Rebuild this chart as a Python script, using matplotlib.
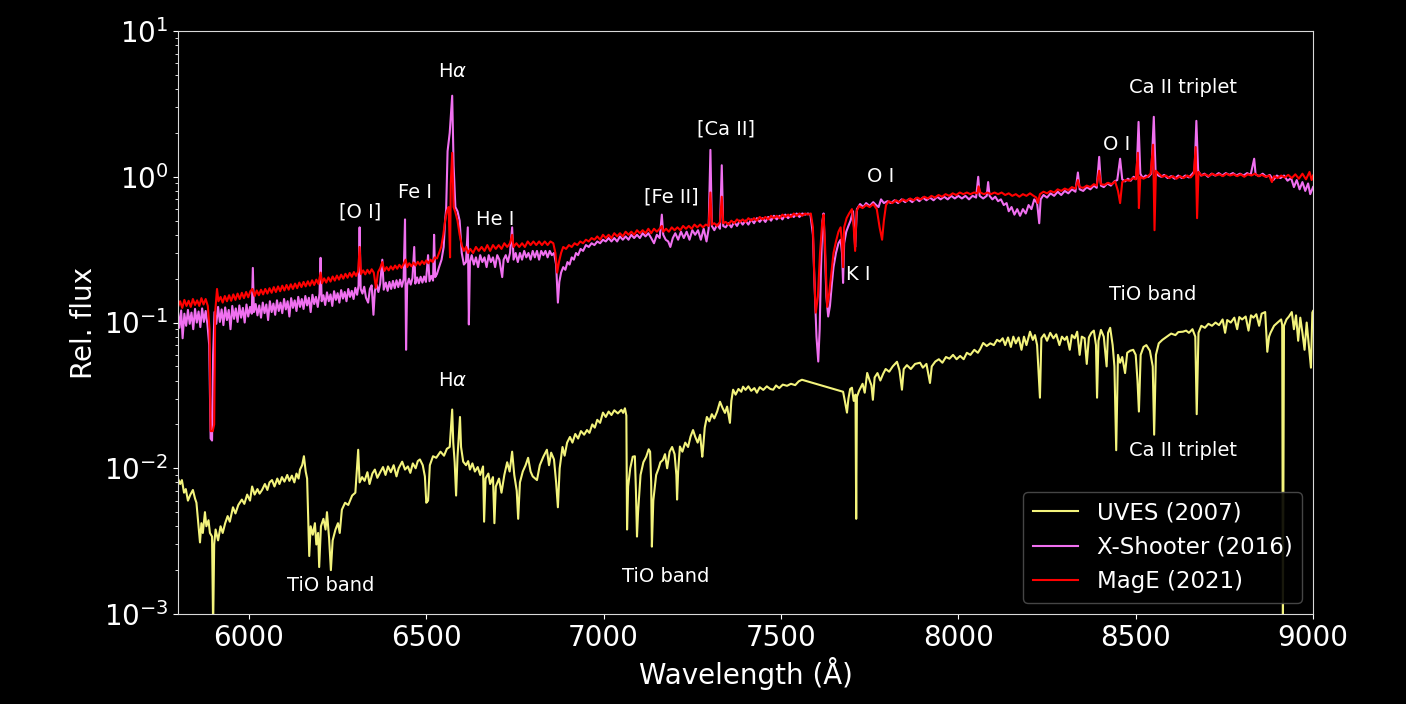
import matplotlib
matplotlib.use("Agg")
import matplotlib.pyplot as plt

# (wavelength in Angstrom, relative flux)
uves = [
    (5800, 0.0085), (5806, 0.0078), (5811, 0.0083), (5817, 0.0068), (5822, 0.0072), (5828, 0.0060),
    (5835, 0.0066), (5842, 0.0071), (5848, 0.0062), (5852, 0.0058), (5856, 0.0045), (5862, 0.0031),
    (5866, 0.0042), (5870, 0.0036), (5876, 0.0050), (5880, 0.0040), (5886, 0.0044), (5890, 0.0036),
    (5896, 0.0034), (5899, 0.0008), (5902, 0.0030), (5906, 0.0038), (5913, 0.0032), (5920, 0.0040),
    (5926, 0.0036), (5933, 0.0042), (5940, 0.0047), (5946, 0.0043), (5955, 0.0054), (5962, 0.0049),
    (5970, 0.0056), (5980, 0.0061), (5987, 0.0057), (5995, 0.0066), (6003, 0.0060), (6009, 0.0075),
    (6016, 0.0066), (6024, 0.0072), (6030, 0.0067), (6037, 0.0071), (6045, 0.0078), (6052, 0.0071),
    (6058, 0.0080), (6065, 0.0083), (6072, 0.0075), (6080, 0.0085), (6086, 0.0078), (6093, 0.0087),
    (6100, 0.0081), (6108, 0.0090), (6114, 0.0082), (6121, 0.0089), (6128, 0.0080), (6134, 0.0092),
    (6140, 0.0085), (6144, 0.0098), (6150, 0.0105), (6155, 0.0121), (6160, 0.0095), (6164, 0.0085),
    (6167, 0.0045), (6170, 0.0025), (6174, 0.0040), (6180, 0.0035), (6186, 0.0042), (6190, 0.0030),
    (6195, 0.0036), (6198, 0.0021), (6203, 0.0040), (6210, 0.0045), (6216, 0.0038), (6220, 0.0050),
    (6226, 0.0033), (6231, 0.0020), (6236, 0.0032), (6244, 0.0038), (6251, 0.0042), (6256, 0.0036),
    (6262, 0.0052), (6271, 0.0058), (6280, 0.0056), (6291, 0.0065), (6300, 0.0068), (6308, 0.0134),
    (6312, 0.0080), (6319, 0.0087), (6326, 0.0082), (6334, 0.0094), (6340, 0.0078), (6348, 0.0092),
    (6355, 0.0098), (6362, 0.0086), (6370, 0.0094), (6378, 0.0102), (6385, 0.0090), (6392, 0.0103),
    (6400, 0.0094), (6408, 0.0105), (6416, 0.0088), (6422, 0.0100), (6432, 0.0111), (6440, 0.0098),
    (6448, 0.0103), (6455, 0.0093), (6462, 0.0108), (6470, 0.0100), (6476, 0.0112), (6482, 0.0115),
    (6490, 0.0105), (6496, 0.0088), (6500, 0.0058), (6505, 0.0060), (6510, 0.0105), (6519, 0.0121),
    (6528, 0.0118), (6540, 0.0130), (6550, 0.0122), (6558, 0.0136), (6566, 0.0140), (6573, 0.0253),
    (6576, 0.0150), (6580, 0.0110), (6584, 0.0065), (6588, 0.0120), (6595, 0.0225), (6598, 0.0140),
    (6604, 0.0111), (6612, 0.0105), (6618, 0.0112), (6623, 0.0098), (6630, 0.0108), (6637, 0.0095),
    (6645, 0.0102), (6652, 0.0090), (6660, 0.0103), (6663, 0.0043), (6667, 0.0085), (6675, 0.0092),
    (6680, 0.0078), (6688, 0.0087), (6692, 0.0042), (6696, 0.0075), (6705, 0.0085), (6712, 0.0068),
    (6720, 0.0090), (6728, 0.0110), (6735, 0.0095), (6742, 0.0130), (6748, 0.0090), (6755, 0.0070),
    (6759, 0.0045), (6764, 0.0080), (6772, 0.0095), (6780, 0.0105), (6787, 0.0118), (6794, 0.0095),
    (6800, 0.0088), (6812, 0.0083), (6820, 0.0105), (6830, 0.0120), (6840, 0.0134), (6846, 0.0105),
    (6852, 0.0128), (6860, 0.0115), (6866, 0.0080), (6871, 0.0054), (6876, 0.0100), (6884, 0.0140),
    (6890, 0.0122), (6897, 0.0150), (6905, 0.0164), (6912, 0.0150), (6920, 0.0172), (6928, 0.0160),
    (6936, 0.0180), (6945, 0.0170), (6953, 0.0183), (6960, 0.0175), (6968, 0.0200), (6975, 0.0190),
    (6982, 0.0215), (6990, 0.0205), (6998, 0.0241), (7006, 0.0225), (7014, 0.0245), (7022, 0.0232),
    (7030, 0.0250), (7040, 0.0238), (7050, 0.0252), (7055, 0.0240), (7060, 0.0258), (7064, 0.0230),
    (7066, 0.0038), (7069, 0.0075), (7075, 0.0100), (7082, 0.0120), (7088, 0.0121), (7091, 0.0070),
    (7094, 0.0034), (7097, 0.0050), (7104, 0.0090), (7112, 0.0110), (7120, 0.0120), (7127, 0.0135),
    (7131, 0.0130), (7134, 0.0080), (7136, 0.0029), (7140, 0.0060), (7148, 0.0090), (7155, 0.0100),
    (7160, 0.0110), (7167, 0.0114), (7173, 0.0125), (7179, 0.0100), (7186, 0.0130), (7193, 0.0140),
    (7200, 0.0125), (7205, 0.0090), (7207, 0.0061), (7210, 0.0095), (7215, 0.0141), (7222, 0.0130),
    (7230, 0.0150), (7238, 0.0140), (7245, 0.0165), (7252, 0.0183), (7258, 0.0165), (7265, 0.0150),
    (7272, 0.0170), (7278, 0.0120), (7280, 0.0134), (7285, 0.0190), (7291, 0.0225), (7298, 0.0210),
    (7305, 0.0235), (7312, 0.0220), (7320, 0.0245), (7328, 0.0286), (7335, 0.0260), (7342, 0.0240),
    (7348, 0.0265), (7356, 0.0205), (7360, 0.0290), (7365, 0.0346), (7372, 0.0320), (7380, 0.0350),
    (7388, 0.0335), (7393, 0.0363), (7400, 0.0345), (7408, 0.0365), (7416, 0.0340), (7425, 0.0355),
    (7432, 0.0330), (7440, 0.0360), (7450, 0.0345), (7460, 0.0365), (7470, 0.0350), (7478, 0.0346),
    (7486, 0.0370), (7495, 0.0355), (7505, 0.0375), (7517, 0.0368), (7528, 0.0380), (7540, 0.0372),
    (7550, 0.0395), (7559, 0.0405),
    (7675, 0.0335), (7680, 0.0290), (7686, 0.0241), (7690, 0.0300), (7695, 0.0350), (7700, 0.0357),
    (7705, 0.0290), (7710, 0.0320), (7712, 0.0045), (7714, 0.0309), (7720, 0.0340), (7730, 0.0380),
    (7736, 0.0330), (7743, 0.0451), (7750, 0.0400), (7755, 0.0370), (7759, 0.0295), (7764, 0.0420),
    (7772, 0.0450), (7780, 0.0400), (7788, 0.0445), (7795, 0.0480), (7805, 0.0460), (7815, 0.0500),
    (7827, 0.0538), (7834, 0.0470), (7841, 0.0346), (7846, 0.0480), (7855, 0.0510), (7866, 0.0480),
    (7878, 0.0520), (7892, 0.0530), (7900, 0.0490), (7910, 0.0520), (7920, 0.0385), (7925, 0.0500),
    (7935, 0.0540), (7945, 0.0560), (7955, 0.0530), (7965, 0.0580), (7975, 0.0565), (7985, 0.0600),
    (7995, 0.0560), (8005, 0.0590), (8015, 0.0560), (8024, 0.0620), (8034, 0.0600), (8045, 0.0650),
    (8055, 0.0620), (8062, 0.0660), (8070, 0.0724), (8080, 0.0690), (8090, 0.0720), (8100, 0.0700),
    (8109, 0.0761), (8117, 0.0740), (8125, 0.0780), (8132, 0.0700), (8140, 0.0790), (8148, 0.0680),
    (8155, 0.0800), (8162, 0.0720), (8170, 0.0790), (8178, 0.0650), (8185, 0.0800), (8192, 0.0700),
    (8202, 0.0865), (8210, 0.0760), (8216, 0.0820), (8222, 0.0700), (8230, 0.0305), (8234, 0.0780),
    (8242, 0.0830), (8250, 0.0750), (8259, 0.0850), (8268, 0.0780), (8276, 0.0830), (8285, 0.0700),
    (8292, 0.0800), (8300, 0.0760), (8306, 0.0800), (8314, 0.0650), (8320, 0.0820), (8328, 0.0780),
    (8335, 0.0865), (8342, 0.0600), (8348, 0.0800), (8356, 0.0780), (8362, 0.0520), (8368, 0.0790),
    (8375, 0.0850), (8382, 0.0880), (8388, 0.0700), (8391, 0.0305), (8395, 0.0750), (8402, 0.0890),
    (8410, 0.0800), (8418, 0.0500), (8422, 0.0850), (8428, 0.0920), (8435, 0.0700), (8440, 0.0500),
    (8445, 0.0133), (8450, 0.0600), (8456, 0.0530), (8462, 0.0580), (8470, 0.0450), (8476, 0.0620),
    (8484, 0.0640), (8493, 0.0650), (8500, 0.0600), (8505, 0.0400), (8509, 0.0245), (8514, 0.0600),
    (8522, 0.0680), (8530, 0.0700), (8540, 0.0640), (8548, 0.0500), (8552, 0.0170), (8557, 0.0600),
    (8565, 0.0720), (8575, 0.0760), (8588, 0.0800), (8600, 0.0840), (8612, 0.0820), (8620, 0.0860),
    (8633, 0.0865), (8642, 0.0880), (8650, 0.0850), (8660, 0.0900), (8668, 0.0800), (8672, 0.0235),
    (8677, 0.0850), (8685, 0.0950), (8695, 0.0920), (8705, 0.0980), (8715, 0.0950), (8725, 0.1000),
    (8735, 0.0960), (8745, 0.1050), (8752, 0.0850), (8758, 0.1040), (8768, 0.1000), (8778, 0.1080),
    (8786, 0.0900), (8792, 0.1090), (8800, 0.1050), (8810, 0.1100), (8818, 0.0880), (8825, 0.1120),
    (8832, 0.1080), (8840, 0.1140), (8848, 0.0950), (8855, 0.1150), (8865, 0.1180), (8871, 0.0630),
    (8876, 0.0800), (8880, 0.0850), (8890, 0.0950), (8900, 0.1000), (8910, 0.1050), (8913, 0.0960),
    (8915, 0.0008), (8918, 0.0950), (8925, 0.1050), (8932, 0.1100), (8940, 0.1180), (8946, 0.0900),
    (8952, 0.1120), (8958, 0.0750), (8964, 0.1080), (8970, 0.0850), (8976, 0.0650), (8982, 0.1000),
    (8988, 0.0700), (8994, 0.0490), (8998, 0.1170), (9000, 0.1200),
]

xshooter = [
    (5800, 0.118), (5804, 0.092), (5809, 0.121), (5813, 0.078), (5818, 0.115), (5823, 0.095),
    (5828, 0.122), (5833, 0.098), (5838, 0.117), (5843, 0.090), (5848, 0.124), (5853, 0.100),
    (5858, 0.119), (5863, 0.093), (5868, 0.125), (5873, 0.101), (5878, 0.120), (5883, 0.097),
    (5888, 0.070), (5892, 0.016), (5896, 0.0155), (5899, 0.060), (5903, 0.118), (5908, 0.098),
    (5913, 0.128), (5918, 0.101), (5923, 0.123), (5928, 0.096), (5933, 0.127), (5938, 0.104),
    (5943, 0.122), (5948, 0.090), (5953, 0.130), (5958, 0.106), (5963, 0.125), (5968, 0.101),
    (5973, 0.131), (5978, 0.108), (5983, 0.126), (5988, 0.100), (5993, 0.133), (5998, 0.110),
    (6003, 0.128), (6008, 0.115), (6011, 0.237), (6014, 0.118), (6019, 0.134), (6024, 0.112),
    (6029, 0.131), (6034, 0.108), (6039, 0.137), (6044, 0.116), (6049, 0.133), (6054, 0.104),
    (6059, 0.140), (6064, 0.118), (6069, 0.135), (6074, 0.113), (6079, 0.142), (6084, 0.120),
    (6089, 0.137), (6094, 0.116), (6099, 0.145), (6104, 0.123), (6109, 0.140), (6114, 0.110),
    (6119, 0.147), (6124, 0.126), (6129, 0.142), (6134, 0.120), (6139, 0.150), (6144, 0.128),
    (6149, 0.145), (6154, 0.124), (6159, 0.152), (6164, 0.131), (6169, 0.148), (6174, 0.118),
    (6179, 0.155), (6184, 0.134), (6189, 0.150), (6194, 0.128), (6199, 0.158), (6202, 0.278),
    (6205, 0.140), (6210, 0.154), (6215, 0.132), (6220, 0.161), (6225, 0.140), (6230, 0.156),
    (6235, 0.130), (6240, 0.164), (6245, 0.143), (6250, 0.159), (6255, 0.137), (6260, 0.167),
    (6265, 0.146), (6270, 0.162), (6275, 0.140), (6280, 0.170), (6285, 0.150), (6290, 0.165),
    (6295, 0.145), (6300, 0.173), (6305, 0.155), (6309, 0.180), (6312, 0.450), (6315, 0.170),
    (6320, 0.158), (6325, 0.176), (6330, 0.148), (6336, 0.137), (6341, 0.170), (6346, 0.180),
    (6351, 0.113), (6355, 0.165), (6360, 0.182), (6365, 0.162), (6370, 0.185), (6376, 0.270),
    (6380, 0.168), (6386, 0.188), (6391, 0.165), (6396, 0.190), (6401, 0.170), (6406, 0.193),
    (6411, 0.172), (6416, 0.195), (6421, 0.175), (6426, 0.197), (6431, 0.176), (6436, 0.198),
    (6440, 0.510), (6443, 0.065), (6446, 0.180), (6451, 0.200), (6456, 0.182), (6461, 0.202),
    (6466, 0.330), (6469, 0.185), (6474, 0.204), (6479, 0.186), (6484, 0.206), (6489, 0.188),
    (6494, 0.207), (6499, 0.190), (6505, 0.290), (6509, 0.192), (6514, 0.209), (6519, 0.194),
    (6522, 0.400), (6525, 0.205), (6530, 0.215), (6536, 0.240), (6543, 0.270), (6549, 0.330),
    (6553, 0.500), (6556, 0.600), (6560, 1.500), (6566, 2.000), (6573, 3.600), (6577, 1.200),
    (6582, 0.620), (6588, 0.580), (6594, 0.500), (6600, 0.300), (6606, 0.250), (6612, 0.260),
    (6617, 0.450), (6620, 0.097), (6623, 0.260), (6628, 0.290), (6634, 0.250), (6640, 0.280),
    (6646, 0.240), (6652, 0.290), (6658, 0.260), (6664, 0.280), (6670, 0.240), (6676, 0.290),
    (6682, 0.260), (6688, 0.280), (6694, 0.240), (6700, 0.290), (6706, 0.270), (6714, 0.205),
    (6718, 0.270), (6724, 0.290), (6730, 0.260), (6736, 0.300), (6742, 0.450), (6746, 0.270),
    (6752, 0.300), (6758, 0.260), (6764, 0.300), (6770, 0.270), (6776, 0.310), (6782, 0.280),
    (6788, 0.300), (6794, 0.270), (6800, 0.310), (6806, 0.280), (6812, 0.310), (6818, 0.270),
    (6824, 0.310), (6830, 0.290), (6836, 0.310), (6842, 0.280), (6848, 0.310), (6854, 0.290),
    (6860, 0.300), (6866, 0.250), (6871, 0.137), (6875, 0.190), (6880, 0.220), (6886, 0.240),
    (6892, 0.230), (6898, 0.260), (6904, 0.250), (6910, 0.280), (6916, 0.270), (6922, 0.300),
    (6928, 0.290), (6935, 0.320), (6942, 0.310), (6950, 0.340), (6958, 0.330), (6966, 0.350),
    (6974, 0.340), (6982, 0.360), (6990, 0.350), (6998, 0.370), (7006, 0.360), (7014, 0.380),
    (7022, 0.360), (7030, 0.380), (7038, 0.360), (7046, 0.390), (7054, 0.370), (7062, 0.390),
    (7070, 0.370), (7078, 0.400), (7086, 0.380), (7094, 0.400), (7102, 0.380), (7110, 0.410),
    (7118, 0.390), (7126, 0.410), (7134, 0.380), (7142, 0.350), (7150, 0.400), (7158, 0.380),
    (7164, 0.550), (7168, 0.400), (7175, 0.370), (7182, 0.360), (7188, 0.330), (7195, 0.380),
    (7202, 0.410), (7210, 0.370), (7218, 0.420), (7226, 0.380), (7234, 0.420), (7242, 0.370),
    (7250, 0.430), (7258, 0.400), (7266, 0.430), (7274, 0.370), (7282, 0.440), (7290, 0.360),
    (7296, 0.440), (7301, 1.530), (7305, 0.460), (7312, 0.430), (7320, 0.470), (7328, 0.440),
    (7333, 1.200), (7337, 0.460), (7344, 0.450), (7352, 0.480), (7360, 0.450), (7368, 0.490),
    (7376, 0.460), (7384, 0.500), (7392, 0.470), (7400, 0.500), (7408, 0.470), (7416, 0.510),
    (7424, 0.480), (7432, 0.520), (7440, 0.490), (7448, 0.520), (7456, 0.490), (7464, 0.530),
    (7472, 0.500), (7480, 0.540), (7488, 0.510), (7496, 0.540), (7504, 0.510), (7512, 0.550),
    (7520, 0.520), (7528, 0.550), (7536, 0.530), (7544, 0.560), (7552, 0.530), (7560, 0.560),
    (7568, 0.550), (7576, 0.560), (7583, 0.550), (7590, 0.400), (7594, 0.200), (7600, 0.080),
    (7605, 0.054), (7609, 0.090), (7613, 0.250), (7617, 0.500), (7620, 0.560), (7623, 0.350),
    (7628, 0.150), (7633, 0.110), (7638, 0.130), (7643, 0.180), (7648, 0.240), (7655, 0.300),
    (7662, 0.350), (7668, 0.370), (7672, 0.300), (7675, 0.187), (7678, 0.350), (7684, 0.420),
    (7690, 0.460), (7696, 0.500), (7703, 0.580), (7706, 0.450), (7709, 0.330), (7714, 0.600),
    (7723, 0.650), (7732, 0.620), (7740, 0.660), (7750, 0.630), (7760, 0.670), (7768, 0.640),
    (7775, 0.620), (7782, 0.700), (7790, 0.660), (7800, 0.680), (7810, 0.660), (7820, 0.690),
    (7830, 0.660), (7840, 0.700), (7850, 0.670), (7860, 0.700), (7870, 0.670), (7880, 0.710),
    (7890, 0.680), (7900, 0.720), (7910, 0.690), (7920, 0.720), (7930, 0.690), (7940, 0.730),
    (7950, 0.700), (7960, 0.730), (7970, 0.700), (7980, 0.740), (7990, 0.710), (8000, 0.740),
    (8010, 0.710), (8020, 0.740), (8030, 0.700), (8040, 0.740), (8050, 0.720), (8056, 1.000),
    (8060, 0.740), (8070, 0.710), (8080, 0.740), (8084, 0.920), (8088, 0.740), (8096, 0.700),
    (8104, 0.730), (8112, 0.680), (8120, 0.700), (8128, 0.640), (8136, 0.660), (8142, 0.580),
    (8150, 0.620), (8158, 0.550), (8166, 0.600), (8174, 0.540), (8182, 0.600), (8190, 0.560),
    (8198, 0.640), (8206, 0.600), (8214, 0.700), (8222, 0.660), (8228, 0.480), (8232, 0.700),
    (8240, 0.750), (8250, 0.720), (8260, 0.770), (8270, 0.740), (8280, 0.790), (8290, 0.750),
    (8300, 0.800), (8310, 0.770), (8320, 0.820), (8330, 0.790), (8337, 1.070), (8342, 0.820),
    (8352, 0.800), (8362, 0.850), (8372, 0.820), (8382, 0.870), (8390, 0.840), (8397, 1.370),
    (8402, 0.870), (8410, 0.850), (8420, 0.900), (8430, 0.870), (8440, 0.930), (8448, 0.950),
    (8456, 1.330), (8462, 0.960), (8470, 0.930), (8478, 0.970), (8486, 0.940), (8494, 1.000),
    (8502, 0.970), (8508, 2.380), (8513, 1.050), (8520, 0.980), (8528, 1.020), (8536, 1.000),
    (8544, 1.050), (8551, 2.580), (8556, 1.080), (8564, 1.020), (8572, 1.000), (8580, 1.030),
    (8590, 0.980), (8600, 1.010), (8610, 0.970), (8620, 1.020), (8630, 0.980), (8640, 1.020),
    (8650, 0.990), (8660, 1.050), (8666, 1.100), (8671, 2.420), (8676, 1.100), (8684, 1.020),
    (8694, 1.050), (8704, 1.000), (8714, 1.050), (8724, 1.020), (8734, 1.060), (8744, 1.020),
    (8754, 1.060), (8764, 1.030), (8774, 1.060), (8784, 1.020), (8794, 1.050), (8804, 1.020),
    (8814, 1.060), (8824, 1.030), (8834, 1.330), (8838, 1.040), (8848, 1.010), (8858, 1.050),
    (8868, 1.000), (8878, 1.030), (8888, 0.950), (8898, 1.020), (8908, 0.980), (8918, 1.020),
    (8928, 0.940), (8938, 0.980), (8946, 0.850), (8954, 0.950), (8962, 0.820), (8970, 0.920),
    (8978, 0.800), (8986, 0.900), (8992, 0.760), (9000, 0.850),
]

mage = [
    (5800, 0.128), (5806, 0.140), (5812, 0.126), (5818, 0.143), (5824, 0.130), (5830, 0.141),
    (5836, 0.128), (5842, 0.145), (5848, 0.132), (5854, 0.142), (5860, 0.130), (5866, 0.147),
    (5872, 0.133), (5878, 0.145), (5884, 0.130), (5889, 0.090), (5892, 0.018), (5898, 0.018),
    (5902, 0.020), (5905, 0.120), (5910, 0.170), (5914, 0.140), (5920, 0.150), (5926, 0.137),
    (5932, 0.152), (5938, 0.140), (5944, 0.154), (5950, 0.141), (5956, 0.156), (5962, 0.143),
    (5968, 0.158), (5974, 0.145), (5980, 0.160), (5986, 0.147), (5992, 0.162), (5998, 0.149),
    (6004, 0.164), (6010, 0.170), (6016, 0.152), (6022, 0.166), (6028, 0.154), (6034, 0.168),
    (6040, 0.156), (6046, 0.170), (6052, 0.158), (6058, 0.172), (6064, 0.160), (6070, 0.175),
    (6076, 0.162), (6082, 0.177), (6088, 0.164), (6094, 0.179), (6100, 0.166), (6106, 0.181),
    (6112, 0.168), (6118, 0.183), (6124, 0.170), (6130, 0.185), (6136, 0.172), (6142, 0.188),
    (6148, 0.175), (6154, 0.190), (6160, 0.177), (6166, 0.192), (6172, 0.179), (6178, 0.195),
    (6184, 0.181), (6190, 0.197), (6196, 0.184), (6202, 0.220), (6206, 0.186), (6212, 0.201),
    (6218, 0.188), (6224, 0.204), (6230, 0.191), (6236, 0.207), (6242, 0.194), (6248, 0.210),
    (6254, 0.197), (6260, 0.213), (6266, 0.200), (6272, 0.216), (6278, 0.203), (6284, 0.219),
    (6290, 0.206), (6296, 0.222), (6302, 0.209), (6308, 0.225), (6312, 0.330), (6316, 0.215),
    (6322, 0.228), (6328, 0.214), (6334, 0.230), (6340, 0.217), (6346, 0.232), (6352, 0.220),
    (6358, 0.173), (6364, 0.222), (6370, 0.236), (6376, 0.260), (6382, 0.226), (6388, 0.240),
    (6394, 0.228), (6400, 0.243), (6406, 0.231), (6412, 0.246), (6418, 0.234), (6424, 0.249),
    (6430, 0.237), (6436, 0.252), (6442, 0.270), (6446, 0.240), (6452, 0.255), (6458, 0.243),
    (6464, 0.258), (6470, 0.246), (6476, 0.261), (6482, 0.249), (6488, 0.264), (6494, 0.252),
    (6500, 0.267), (6506, 0.255), (6512, 0.270), (6518, 0.260), (6524, 0.280), (6530, 0.275),
    (6536, 0.300), (6542, 0.330), (6548, 0.400), (6553, 0.500), (6558, 0.580), (6563, 0.620),
    (6567, 0.280), (6569, 0.900), (6573, 1.460), (6577, 0.620), (6582, 0.570), (6588, 0.500),
    (6594, 0.400), (6600, 0.340), (6606, 0.310), (6612, 0.330), (6618, 0.300), (6624, 0.320),
    (6632, 0.300), (6640, 0.330), (6648, 0.310), (6656, 0.330), (6664, 0.310), (6672, 0.340),
    (6680, 0.310), (6688, 0.340), (6696, 0.320), (6704, 0.340), (6712, 0.320), (6720, 0.350),
    (6728, 0.330), (6736, 0.350), (6742, 0.400), (6746, 0.330), (6754, 0.350), (6762, 0.330),
    (6770, 0.350), (6778, 0.330), (6786, 0.360), (6794, 0.340), (6802, 0.360), (6810, 0.340),
    (6818, 0.360), (6826, 0.340), (6834, 0.360), (6842, 0.340), (6850, 0.360), (6858, 0.350),
    (6864, 0.300), (6869, 0.220), (6874, 0.260), (6880, 0.300), (6886, 0.330), (6894, 0.320),
    (6902, 0.340), (6910, 0.330), (6918, 0.350), (6926, 0.340), (6934, 0.360), (6942, 0.350),
    (6950, 0.370), (6958, 0.360), (6966, 0.380), (6974, 0.370), (6982, 0.390), (6990, 0.370),
    (6998, 0.400), (7006, 0.380), (7014, 0.400), (7022, 0.380), (7030, 0.410), (7038, 0.390),
    (7046, 0.410), (7054, 0.390), (7062, 0.420), (7070, 0.400), (7078, 0.420), (7086, 0.400),
    (7094, 0.430), (7102, 0.410), (7110, 0.430), (7118, 0.410), (7126, 0.440), (7134, 0.410),
    (7142, 0.440), (7150, 0.420), (7158, 0.440), (7164, 0.460), (7168, 0.420), (7176, 0.440),
    (7184, 0.420), (7192, 0.450), (7200, 0.430), (7208, 0.450), (7216, 0.430), (7224, 0.460),
    (7232, 0.440), (7240, 0.460), (7248, 0.440), (7256, 0.470), (7264, 0.450), (7272, 0.470),
    (7280, 0.450), (7288, 0.470), (7296, 0.460), (7301, 0.780), (7305, 0.470), (7312, 0.480),
    (7320, 0.460), (7328, 0.490), (7333, 0.730), (7337, 0.480), (7344, 0.490), (7352, 0.470),
    (7360, 0.500), (7368, 0.480), (7376, 0.510), (7384, 0.490), (7392, 0.510), (7400, 0.490),
    (7408, 0.520), (7416, 0.500), (7424, 0.520), (7432, 0.500), (7440, 0.530), (7448, 0.510),
    (7456, 0.530), (7464, 0.510), (7472, 0.540), (7480, 0.520), (7488, 0.540), (7496, 0.520),
    (7504, 0.550), (7512, 0.530), (7520, 0.550), (7528, 0.530), (7536, 0.560), (7544, 0.540),
    (7552, 0.560), (7560, 0.540), (7568, 0.560), (7576, 0.550), (7584, 0.560), (7590, 0.450),
    (7594, 0.200), (7598, 0.117), (7604, 0.150), (7610, 0.300), (7616, 0.480), (7620, 0.550),
    (7624, 0.350), (7630, 0.128), (7636, 0.160), (7642, 0.220), (7648, 0.300), (7655, 0.360),
    (7662, 0.420), (7668, 0.450), (7672, 0.350), (7675, 0.240), (7678, 0.450), (7685, 0.520),
    (7692, 0.560), (7700, 0.600), (7705, 0.450), (7709, 0.310), (7713, 0.580), (7720, 0.630),
    (7730, 0.610), (7740, 0.640), (7750, 0.620), (7760, 0.650), (7770, 0.600), (7778, 0.450),
    (7785, 0.370), (7790, 0.500), (7796, 0.640), (7804, 0.680), (7814, 0.660), (7824, 0.690),
    (7834, 0.670), (7844, 0.700), (7854, 0.680), (7864, 0.710), (7874, 0.690), (7884, 0.720),
    (7894, 0.700), (7904, 0.730), (7914, 0.710), (7924, 0.740), (7934, 0.720), (7944, 0.750),
    (7954, 0.730), (7964, 0.760), (7974, 0.740), (7984, 0.770), (7994, 0.750), (8004, 0.780),
    (8014, 0.760), (8024, 0.780), (8034, 0.760), (8044, 0.780), (8054, 0.770), (8057, 0.860),
    (8062, 0.780), (8072, 0.760), (8082, 0.780), (8092, 0.760), (8102, 0.780), (8112, 0.760),
    (8122, 0.780), (8132, 0.750), (8142, 0.770), (8152, 0.740), (8162, 0.760), (8172, 0.730),
    (8182, 0.760), (8192, 0.740), (8202, 0.770), (8212, 0.740), (8220, 0.720), (8224, 0.660),
    (8230, 0.760), (8240, 0.790), (8250, 0.770), (8260, 0.800), (8270, 0.780), (8280, 0.820),
    (8290, 0.800), (8300, 0.830), (8310, 0.810), (8320, 0.850), (8330, 0.830), (8337, 0.950),
    (8342, 0.850), (8352, 0.840), (8362, 0.870), (8372, 0.850), (8382, 0.890), (8390, 0.870),
    (8397, 1.100), (8402, 0.890), (8412, 0.880), (8422, 0.910), (8432, 0.890), (8442, 0.930),
    (8450, 0.800), (8456, 0.660), (8462, 0.920), (8472, 0.950), (8482, 0.940), (8492, 0.980),
    (8500, 0.960), (8506, 1.460), (8509, 0.610), (8513, 1.000), (8522, 0.970), (8532, 1.000),
    (8542, 1.050), (8549, 1.660), (8553, 0.430), (8557, 1.100), (8565, 1.050), (8575, 1.000),
    (8585, 1.020), (8595, 0.980), (8605, 1.010), (8615, 0.970), (8625, 1.010), (8635, 0.980),
    (8645, 1.020), (8655, 0.990), (8664, 1.050), (8669, 1.600), (8673, 0.520), (8677, 1.080),
    (8686, 1.020), (8696, 1.040), (8706, 1.010), (8716, 1.050), (8726, 1.020), (8736, 1.040),
    (8746, 1.010), (8756, 1.050), (8766, 1.020), (8776, 1.040), (8786, 1.010), (8796, 1.040),
    (8806, 1.000), (8816, 1.040), (8826, 1.020), (8836, 1.050), (8846, 1.010), (8856, 1.030),
    (8866, 1.000), (8876, 1.020), (8884, 0.920), (8890, 1.010), (8900, 0.980), (8910, 1.020),
    (8920, 0.990), (8930, 1.030), (8940, 0.980), (8950, 1.040), (8960, 0.970), (8970, 1.050),
    (8980, 0.960), (8990, 1.080), (8996, 0.950), (9000, 1.020),
]

series_names = ["UVES (2007)", "X-Shooter (2016)", "MagE (2021)"]
series_colors = ["#f3f37c", "#f070f0", "red"]

# line labels: (text, wavelength, flux)
line_labels = [
    (r"H$\alpha$", 6575, 5.3),
    ("[O I]", 6313, 0.57),
    ("Fe I", 6468, 0.78),
    ("He I", 6694, 0.51),
    ("[Fe II]", 7191, 0.73),
    ("[Ca II]", 7345, 2.13),
    ("O I", 7782, 1.0),
    ("K I", 7717, 0.215),
    ("O I", 8446, 1.66),
    ("Ca II triplet", 8634, 4.08),
    ("TiO band", 8549, 0.155),
    (r"H$\alpha$", 6575, 0.040),
    ("Ca II triplet", 8634, 0.0133),
    ("TiO band", 6231, 0.00156),
    ("TiO band", 7176, 0.00181),
]

fig = plt.figure(figsize=(14.06, 7.04), dpi=100, facecolor="black")
ax = fig.add_axes([0.1266, 0.1278, 0.8073, 0.8281])
ax.set_facecolor("black")

for data, name, col in zip([uves, xshooter, mage], series_names, series_colors):
    wl = [p[0] for p in data]
    fl = [p[1] for p in data]
    ax.plot(wl, fl, color=col, lw=1.5, label=name)

for txt, x, y in line_labels:
    ax.text(x, y, txt, color="white", fontsize=14, ha="center", va="center")

ax.set_yscale("log")
ax.set_xlim(5800, 9000)
ax.set_ylim(1e-3, 1e1)
ax.set_xticks([6000, 6500, 7000, 7500, 8000, 8500, 9000])

ax.set_xlabel("Wavelength (Å)", color="white", fontsize=20)
ax.set_ylabel("Rel. flux", color="white", fontsize=20)
ax.tick_params(axis="both", which="both", colors="white", labelsize=20)
for s in ax.spines.values():
    s.set_color("0.85")

leg = ax.legend(loc="lower right", fontsize=16.5, facecolor="black", edgecolor="0.3",
                labelcolor="white", framealpha=0.9)

fig.savefig("out.png", dpi=100, facecolor="black")
